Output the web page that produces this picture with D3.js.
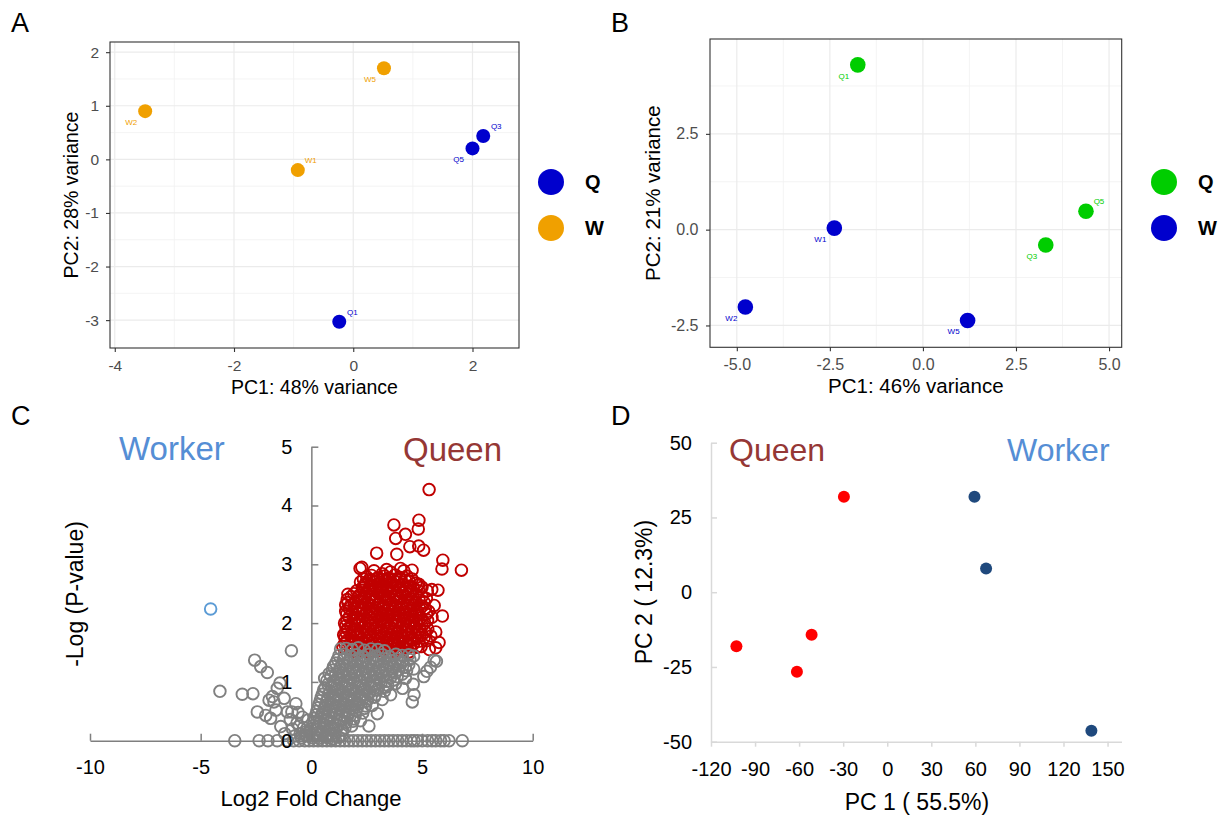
<!DOCTYPE html>
<html>
<head>
<meta charset="utf-8">
<script src="https://cdn.jsdelivr.net/npm/d3@7"></script>
<style>
  body { margin: 0; background: #fff; }
  svg { display: block; font-family: "Liberation Sans", Arial, sans-serif; }
</style>
</head>
<body>
<svg id="fig" width="1225" height="817"></svg>
<script>
// ---------- data ----------

// panel A: PCA (ggplot style)
const samplesA = ['Q1', 'Q3', 'Q5', 'W1', 'W2', 'W5'];
const groupA = ['Q', 'Q', 'Q', 'W', 'W', 'W'];
const pc1A = [-0.235, 2.18, 2.0, -0.93, -3.49, 0.515];
const pc2A = [-3.03, 0.435, 0.205, -0.20, 0.90, 1.70];

// panel B: PCA (ggplot style)
const samplesB = ['Q1', 'Q3', 'Q5', 'W1', 'W2', 'W5'];
const groupB = ['Q', 'Q', 'Q', 'W', 'W', 'W'];
const pc1B = [-1.75, 3.30, 4.38, -2.38, -4.77, 1.20];
const pc2B = [4.30, -0.40, 0.48, 0.04, -2.02, -2.37];

// panel C: volcano plot, [log2 fold change, -log p]
const workerPts = [[-4.55, 2.24]];
const queenPts = [
  [5.32,4.27],[3.73,3.67],[4.86,3.75],[4.83,3.60],[3.81,3.44],[4.25,3.51],[4.45,3.30],[4.85,3.31],[5.07,3.24],
  [2.95,3.19],[3.86,3.17],[5.94,3.07],[5.90,2.92],[6.78,2.90],[2.28,2.95],[2.20,2.93],[2.83,2.89],[3.40,2.91],
  [3.58,2.87],[4.03,2.93],[4.18,2.89],[4.55,2.90],[3.20,2.84],[5.72,2.56],[5.44,2.57],[5.92,2.12],[5.55,2.30],
  [1.65,2.49],[1.55,2.31],[5.62,1.85],[5.77,1.67],[5.33,1.55],[5.62,1.58],[4.96,1.60],[1.52,1.66],[4.86,2.66],
  [5.24,2.55],[2.76,2.73],
  [2.50,2.79],[2.72,2.81],[3.02,2.77],[3.32,2.80],[3.55,2.76],[3.78,2.82],[3.97,2.78],[4.32,2.80],
  [2.35,2.75],[2.62,2.74],[2.95,2.76],[3.20,2.74],[3.45,2.76],[3.70,2.74],[4.05,2.75],[4.25,2.73],[4.55,2.75],
  [2.22,2.70],[2.45,2.68],[2.85,2.71],[3.08,2.67],[3.30,2.72],[3.62,2.69],[3.86,2.70],[4.12,2.66],[4.42,2.71],[4.72,2.68],
  [2.40,2.64],[2.70,2.65],[3.00,2.66],[3.25,2.64],[3.55,2.65],[3.82,2.64],[4.15,2.65],[4.45,2.63],[4.80,2.64],
  [2.30,2.60],[2.60,2.58],[2.92,2.62],[3.17,2.57],[3.45,2.61],[3.72,2.59],[4.02,2.62],[4.27,2.58],[4.60,2.60],[5.00,2.61],
  [2.05,2.55],[2.35,2.56],[2.62,2.54],[2.88,2.56],[3.15,2.53],[3.42,2.56],[3.68,2.54],[3.95,2.56],[4.22,2.54],[4.50,2.55],[4.85,2.55],
  [1.92,2.50],[2.15,2.47],[2.47,2.52],[2.72,2.49],[3.02,2.51],[3.30,2.48],[3.57,2.52],[3.82,2.47],[4.10,2.51],[4.37,2.49],[4.72,2.50],
  [1.80,2.45],[2.12,2.44],[2.40,2.46],[2.66,2.44],[2.95,2.45],[3.22,2.43],[3.48,2.46],[3.76,2.44],[4.05,2.46],[4.30,2.44],[4.60,2.45],[5.00,2.45],
  [1.62,2.40],[2.02,2.38],[2.30,2.42],[2.62,2.39],[2.87,2.41],[3.12,2.37],[3.42,2.41],[3.70,2.39],[3.96,2.42],[4.22,2.38],[4.52,2.41],[4.87,2.39],[5.20,2.42],
  [1.65,2.35],[1.95,2.34],[2.25,2.36],[2.55,2.34],[2.82,2.36],[3.05,2.34],[3.35,2.35],[3.62,2.33],[3.88,2.36],[4.15,2.34],[4.45,2.35],[4.75,2.34],[5.10,2.35],
  [1.77,2.30],[2.10,2.28],[2.42,2.32],[2.75,2.29],[3.00,2.31],[3.26,2.27],[3.52,2.31],[3.80,2.29],[4.06,2.32],[4.36,2.28],[4.66,2.30],[5.02,2.29],
  [1.70,2.25],[2.00,2.24],[2.30,2.26],[2.62,2.24],[2.90,2.26],[3.18,2.24],[3.45,2.25],[3.72,2.23],[4.00,2.26],[4.28,2.24],[4.58,2.25],[4.90,2.24],[5.15,2.25],
  [1.55,2.20],[1.86,2.18],[2.20,2.22],[2.50,2.19],[2.80,2.21],[3.10,2.17],[3.36,2.21],[3.65,2.19],[3.92,2.22],[4.20,2.18],[4.50,2.21],[4.80,2.19],[5.30,2.20],
  [1.60,2.15],[1.95,2.14],[2.28,2.16],[2.58,2.14],[2.88,2.16],[3.15,2.13],[3.42,2.16],[3.70,2.14],[3.97,2.16],[4.25,2.14],[4.55,2.15],[4.85,2.14],[5.20,2.15],
  [1.70,2.10],[2.02,2.08],[2.35,2.12],[2.66,2.09],[2.95,2.11],[3.22,2.07],[3.50,2.11],[3.77,2.09],[4.02,2.12],[4.30,2.08],[4.60,2.11],[4.95,2.09],[5.45,2.10],
  [1.60,2.05],[1.95,2.04],[2.28,2.06],[2.58,2.04],[2.86,2.06],[3.12,2.03],[3.42,2.06],[3.70,2.04],[3.95,2.06],[4.25,2.04],[4.55,2.05],[4.85,2.04],[5.25,2.05],
  [1.50,2.00],[1.85,1.98],[2.15,2.02],[2.45,1.99],[2.76,2.01],[3.05,1.97],[3.32,2.01],[3.60,1.99],[3.86,2.02],[4.15,1.98],[4.45,2.01],[4.76,1.99],[5.12,2.00],
  [1.55,1.95],[1.78,1.94],[2.08,1.96],[2.38,1.94],[2.68,1.96],[2.98,1.93],[3.25,1.96],[3.52,1.94],[3.80,1.96],[4.08,1.94],[4.38,1.95],[4.68,1.94],[5.00,1.95],
  [1.62,1.90],[1.96,1.88],[2.30,1.92],[2.60,1.89],[2.90,1.91],[3.16,1.87],[3.45,1.91],[3.72,1.89],[4.00,1.92],[4.30,1.88],[4.60,1.91],[4.90,1.89],[5.26,1.90],
  [1.55,1.85],[1.88,1.84],[2.20,1.86],[2.50,1.84],[2.80,1.86],[3.08,1.83],[3.38,1.86],[3.65,1.84],[3.92,1.86],[4.22,1.84],[4.50,1.85],[4.80,1.84],[5.15,1.85],
  [1.46,1.80],[1.80,1.78],[2.10,1.82],[2.40,1.79],[2.70,1.81],[3.00,1.77],[3.30,1.81],[3.56,1.79],[3.85,1.82],[4.12,1.78],[4.40,1.81],[4.70,1.79],[5.00,1.80],[5.40,1.78],
  [1.52,1.75],[1.85,1.74],[2.15,1.76],[2.48,1.74],[2.78,1.76],[3.08,1.73],[3.35,1.76],[3.62,1.74],[3.90,1.76],[4.18,1.74],[4.48,1.75],[4.78,1.74],[5.10,1.75],
  [1.60,1.70],[1.92,1.68],[2.25,1.72],[2.56,1.69],[2.86,1.71],[3.15,1.67],[3.42,1.71],[3.70,1.69],[3.96,1.72],[4.25,1.68],[4.56,1.71],[4.86,1.69],[5.20,1.70],
  [1.50,1.65],[1.85,1.64],[2.15,1.66],[2.48,1.64],[2.78,1.66],[3.08,1.63],[3.38,1.66],[3.65,1.64],[3.95,1.66],[4.32,1.64],[4.62,1.65],
  [1.42,1.60],[1.76,1.58],[2.06,1.62],[2.40,1.59],[2.70,1.61],[3.00,1.57],[3.30,1.61],[3.60,1.59],[3.90,1.62],[4.20,1.58],[4.50,1.61],[4.76,1.59],
  [1.60,1.56],[2.10,1.56],[2.45,1.57],[2.80,1.56],[3.10,1.57],[3.40,1.56],[3.72,1.57],[4.02,1.56],[4.30,1.57],
  [1.90,1.52],[2.30,1.53],[2.62,1.51],[2.95,1.53],[3.26,1.52],[3.56,1.51],[3.86,1.53],[4.15,1.52],[4.42,1.51]
];
const otherPts = [
  // along p = 1
  [-3.46,0],[-2.36,0],[-1.96,0],[-1.54,0],[-1.08,0],[-0.80,0],[-0.55,0],[-0.30,0],[-0.10,0],[0.10,0],[0.30,0],
  [0.50,0],[0.70,0],[0.90,0],[1.10,0],[1.30,0],[1.50,0],[1.70,0],[1.90,0],[2.10,0],[2.30,0],[2.50,0],[2.70,0],
  [2.90,0],[3.10,0],[3.30,0],[3.50,0],[3.70,0],[3.90,0],[4.10,0],[4.30,0],[4.50,0],[4.64,0],[4.80,0],[5.01,0],
  [5.25,0],[5.45,0],[5.62,0],[5.84,0],[6.00,0],[6.22,0],[6.82,0],
  // negative fold change
  [-4.13,0.84],[-3.12,0.79],[-2.64,0.80],[-2.56,1.37],[-2.29,1.26],[-1.99,1.16],[-0.90,1.53],[-1.42,0.98],
  [-1.54,0.89],[-1.76,0.75],[-1.91,0.69],[-1.69,0.66],[-1.23,0.72],[-0.70,0.63],[-2.44,0.49],[-2.06,0.43],
  [-1.84,0.38],[-1.38,0.24],[-1.08,0.49],[-0.95,0.36],[-1.20,0.12],[-0.85,0.20],[-0.65,0.30],[-0.50,0.12],
  [-0.35,0.22],[-0.20,0.08],[-0.60,0.48],[-0.40,0.40],[-1.60,0.52],[-0.88,0.49],
  [-0.75,0.08],[-0.55,0.25],[-0.25,0.15],[-0.15,0.35],[-0.45,0.05],
  // positive fold change, not significant
  [1.32,1.56],[1.58,1.57],[1.85,1.55],[2.12,1.58],[2.40,1.54],[2.70,1.56],[3.00,1.55],[3.30,1.53],
  [1.25,1.45],[1.50,1.47],[1.78,1.44],[2.05,1.46],[2.35,1.43],[2.62,1.47],[2.92,1.44],[3.22,1.46],[3.52,1.43],
  [3.82,1.47],[4.10,1.45],[4.40,1.46],[4.62,1.44],[5.55,1.37],[5.65,1.35],
  [1.18,1.38],[1.45,1.39],[1.75,1.37],[2.05,1.39],[2.35,1.37],[2.65,1.39],[2.95,1.37],[3.25,1.39],[3.55,1.37],
  [3.85,1.39],[4.15,1.37],[4.45,1.38],
  [1.10,1.32],[1.40,1.30],[1.70,1.33],[2.00,1.29],[2.30,1.32],[2.60,1.30],[2.90,1.33],[3.20,1.29],[3.50,1.32],
  [3.80,1.30],[4.10,1.33],[4.40,1.29],[5.38,1.25],
  [1.00,1.26],[1.30,1.25],[1.60,1.27],[1.90,1.25],[2.20,1.27],[2.50,1.25],[2.80,1.27],[3.10,1.25],[3.40,1.27],
  [3.70,1.25],[4.00,1.27],[4.25,1.25],
  [0.95,1.20],[1.25,1.18],[1.55,1.22],[1.85,1.19],[2.15,1.21],[2.45,1.17],[2.75,1.21],[3.05,1.19],[3.35,1.22],
  [3.65,1.18],[3.95,1.21],[4.30,1.19],[4.62,1.22],[5.22,1.18],
  [0.80,1.14],[1.10,1.13],[1.40,1.15],[1.70,1.13],[2.00,1.15],[2.30,1.13],[2.60,1.15],[2.90,1.13],[3.20,1.15],
  [3.50,1.13],[3.80,1.15],[4.10,1.13],
  [0.60,1.06],[0.88,1.10],[1.18,1.07],[1.48,1.09],[1.78,1.06],[2.08,1.10],[2.38,1.07],[2.68,1.09],[2.98,1.06],
  [3.28,1.10],[3.58,1.07],[3.88,1.09],[4.25,1.06],[5.08,1.09],
  [0.70,1.02],[1.00,1.01],[1.30,1.03],[1.60,1.01],[1.90,1.03],[2.20,1.01],[2.50,1.03],[2.80,1.01],[3.10,1.03],
  [3.40,1.01],[3.70,1.03],
  [0.75,0.96],[1.05,0.94],[1.35,0.97],[1.65,0.95],[1.95,0.98],[2.25,0.94],[2.55,0.97],[2.85,0.95],[3.15,0.98],
  [3.45,0.94],[3.80,0.97],[4.12,0.89],[4.60,0.96],
  [0.62,0.90],[0.92,0.91],[1.22,0.89],[1.52,0.91],[1.82,0.89],[2.12,0.91],[2.42,0.89],[2.72,0.91],[3.02,0.89],
  [3.35,0.91],
  [0.55,0.86],[0.85,0.84],[1.15,0.87],[1.45,0.83],[1.75,0.86],[2.05,0.84],[2.35,0.87],[2.65,0.83],[2.95,0.86],
  [3.30,0.84],[3.58,0.78],[4.64,0.78],
  [0.50,0.79],[0.80,0.80],[1.10,0.78],[1.40,0.80],[1.70,0.78],[2.00,0.80],[2.30,0.78],[2.60,0.80],[2.90,0.78],
  [0.45,0.74],[0.75,0.72],[1.05,0.75],[1.35,0.71],[1.65,0.74],[1.95,0.72],[2.25,0.75],[2.55,0.71],[2.85,0.74],
  [3.20,0.70],[4.56,0.66],
  [0.40,0.68],[0.70,0.67],[1.00,0.69],[1.30,0.67],[1.60,0.69],[1.90,0.67],[2.20,0.69],[2.50,0.67],
  [0.35,0.62],[0.65,0.60],[0.95,0.63],[1.25,0.59],[1.55,0.62],[1.85,0.60],[2.15,0.63],[2.45,0.59],[2.75,0.60],
  [0.30,0.56],[0.58,0.55],[0.88,0.57],[1.18,0.55],[1.48,0.57],[1.78,0.55],[2.08,0.57],[2.40,0.55],
  [0.25,0.50],[0.52,0.48],[0.82,0.51],[1.12,0.47],[1.42,0.50],[1.72,0.48],[2.02,0.51],[2.32,0.47],[2.98,0.46],
  [0.20,0.44],[0.48,0.45],[0.78,0.43],[1.08,0.45],[1.38,0.43],[1.68,0.45],[1.98,0.43],
  [0.15,0.38],[0.42,0.40],[0.72,0.37],[1.02,0.39],[1.32,0.36],[1.62,0.40],[1.92,0.37],[2.22,0.34],
  [0.12,0.32],[0.40,0.31],[0.68,0.33],[0.98,0.31],[1.28,0.33],[1.58,0.31],[1.88,0.33],
  [0.08,0.26],[0.35,0.24],[0.62,0.27],[0.92,0.23],[1.22,0.26],[1.52,0.22],[1.82,0.25],[2.60,0.25],
  [-0.02,0.20],[0.25,0.19],[0.52,0.21],[0.82,0.19],[1.12,0.21],[1.42,0.18],
  [-0.08,0.14],[0.22,0.12],[0.48,0.15],[0.78,0.11],[1.08,0.13],[1.38,0.10],
  [-0.30,0.10],[0.12,0.09],[0.40,0.09],[0.70,0.08],[1.00,0.08],[1.25,0.06],
  [0.05,0.05],[0.35,0.04],[0.65,0.06],[0.95,0.03]
];

// panel D: PCA (excel style)
const queenPC1 = [-102.7, -29.5, -51.5, -61.5];
const queenPC2 = [-18.1, 31.9, -14.2, -26.6];
const workerPC1 = [59.4, 67.3, 139.0];
const workerPC2 = [31.9, 7.9, -46.3];

// tick values
const ticksAx = [-4, -2, 0, 2];
const ticksAy = [-3, -2, -1, 0, 1, 2];
const ticksBx = [-5, -2.5, 0, 2.5, 5];
const ticksBy = [-2.5, 0, 2.5];
const ticksCx = [-10, -5, 0, 5, 10];
const ticksCy = [0, 1, 2, 3, 4, 5];
const ticksDx = [-120, -90, -60, -30, 0, 30, 60, 90, 120, 150];
const ticksDy = [-50, -25, 0, 25, 50];

// ---------- drawing ----------
const FONT = '"Liberation Sans", Arial, sans-serif';
const svg = d3.select('#fig');

// where the small sample labels go relative to their point
const nudge = { ur: [13, -10], ll: [-14, 11] };

function styleAxis(g, size, color, lineColor, lineWidth) {
    g.attr('font-family', FONT).attr('font-size', size);
    g.selectAll('.tick text').attr('fill', color);
    g.selectAll('.tick line').attr('stroke', lineColor).attr('stroke-width', lineWidth);
    g.select('.domain').attr('stroke', lineColor).attr('stroke-width', lineWidth);
}

/**
 * ggplot2 theme_bw style PCA panel
 */
function drawGgPca(cfg) {
    const b = cfg.box;
    const x = d3.scaleLinear().domain(cfg.xDomain).range([b.left, b.right]);
    const y = d3.scaleLinear().domain(cfg.yDomain).range([b.bottom, b.top]);
    const color = d3.scaleOrdinal().domain(['Q', 'W']).range(cfg.colors);
    const g = svg.append('g');

    // grid lines, minor first
    const grid = (vals, vertical, stroke, w) => g.append('g').selectAll('line').data(vals).join('line')
        .attr('x1', d => vertical ? x(d) : b.left).attr('x2', d => vertical ? x(d) : b.right)
        .attr('y1', d => vertical ? b.top : y(d)).attr('y2', d => vertical ? b.bottom : y(d))
        .attr('stroke', stroke).attr('stroke-width', w);
    grid(cfg.xMinor, true, '#F3F3F3', 0.9);
    grid(cfg.yMinor, false, '#F3F3F3', 0.9);
    grid(cfg.xTicks, true, '#EBEBEB', 1.2);
    grid(cfg.yTicks, false, '#EBEBEB', 1.2);

    const pts = cfg.samples.map((s, i) => ({ s, px: cfg.pc1[i], py: cfg.pc2[i], grp: cfg.groups[i] }));

    g.selectAll('.pt').data(pts).join('circle')
        .attr('cx', d => x(d.px))
        .attr('cy', d => y(d.py))
        .attr('r', cfg.r)
        .attr('fill', d => color(d.grp));

    g.selectAll('.lab').data(pts).join('text')
        .attr('x', d => x(d.px) + nudge[cfg.labelPos[d.s]][0])
        .attr('y', d => y(d.py) + nudge[cfg.labelPos[d.s]][1] + 3)
        .attr('text-anchor', 'middle')
        .attr('font-size', 8)
        .attr('fill', d => color(d.grp))
        .text(d => d.s);

    // panel border
    g.append('rect')
        .attr('x', b.left).attr('y', b.top)
        .attr('width', b.right - b.left).attr('height', b.bottom - b.top)
        .attr('fill', 'none').attr('stroke', '#333333').attr('stroke-width', 1.1);

    // axes
    g.append('g')
        .attr('transform', `translate(0,${b.bottom})`)
        .call(d3.axisBottom(x).tickValues(cfg.xTicks).tickFormat(cfg.fmt).tickSize(4).tickPadding(cfg.pad[0]))
        .call(a => a.select('.domain').remove())
        .call(a => styleAxis(a, cfg.tickSize, '#4D4D4D', '#333333', 1.1));
    g.append('g')
        .attr('transform', `translate(${b.left},0)`)
        .call(d3.axisLeft(y).tickValues(cfg.yTicks).tickFormat(cfg.fmt).tickSize(4).tickPadding(cfg.pad[1]))
        .call(a => a.select('.domain').remove())
        .call(a => styleAxis(a, cfg.tickSize, '#4D4D4D', '#333333', 1.1));

    // axis titles
    g.append('text')
        .attr('x', (b.left + b.right) / 2).attr('y', cfg.xTitleY)
        .attr('text-anchor', 'middle').attr('font-size', cfg.titleSize)
        .text(cfg.xTitle);
    g.append('text')
        .attr('transform', `translate(${cfg.yTitleX},${(b.top + b.bottom) / 2}) rotate(-90)`)
        .attr('text-anchor', 'middle').attr('font-size', cfg.titleSize)
        .text(cfg.yTitle);

    // legend
    const leg = g.append('g');
    ['Q', 'W'].forEach((k, i) => {
        leg.append('circle')
            .attr('cx', cfg.legend.x).attr('cy', cfg.legend.y + i * 46)
            .attr('r', 13).attr('fill', color(k));
        leg.append('text')
            .attr('x', cfg.legend.x + 34).attr('y', cfg.legend.y + i * 46 + 7)
            .attr('font-size', 20).attr('font-weight', 'bold')
            .text(k);
    });
}

drawGgPca({
    box: { left: 110, right: 519, top: 42, bottom: 348 },
    xDomain: [-4.08, 2.78], yDomain: [-3.52, 2.19],
    xTicks: ticksAx, yTicks: ticksAy,
    xMinor: [-3, -1, 1], yMinor: [-2.5, -1.5, -0.5, 0.5, 1.5],
    fmt: d => String(d),
    samples: samplesA, groups: groupA, pc1: pc1A, pc2: pc2A,
    labelPos: { Q1: 'ur', Q3: 'ur', Q5: 'll', W1: 'ur', W2: 'll', W5: 'll' },
    colors: ['#0000CD', '#F0A000'],
    r: 7, tickSize: 15.5, titleSize: 19.5, pad: [8, 7],
    xTitle: 'PC1: 48% variance', xTitleY: 394,
    yTitle: 'PC2: 28% variance', yTitleX: 78,
    legend: { x: 551, y: 182 }
});

drawGgPca({
    box: { left: 710, right: 1121.7, top: 39, bottom: 347.3 },
    xDomain: [-5.72, 5.34], yDomain: [-3.07, 4.975],
    xTicks: ticksBx, yTicks: ticksBy,
    xMinor: [-3.75, -1.25, 1.25, 3.75], yMinor: [-1.25, 1.25, 3.75],
    fmt: d => d.toFixed(1),
    samples: samplesB, groups: groupB, pc1: pc1B, pc2: pc2B,
    labelPos: { Q1: 'll', Q3: 'll', Q5: 'ur', W1: 'll', W2: 'll', W5: 'll' },
    colors: ['#00CD00', '#0000CD'],
    r: 7.8, tickSize: 16, titleSize: 20.5, pad: [7, 7.5],
    xTitle: 'PC1: 46% variance', xTitleY: 393,
    yTitle: 'PC2: 21% variance', yTitleX: 660,
    legend: { x: 1164, y: 182 }
});

// ---------- panel C: volcano ----------
(function () {
    const x = d3.scaleLinear().domain([-10, 10]).range([90, 532.7]);
    const y = d3.scaleLinear().domain([0, 5]).range([740.7, 446.7]);
    const g = svg.append('g');

    const ring = (data, stroke) => g.append('g').selectAll('circle').data(data).join('circle')
        .attr('cx', d => x(d[0])).attr('cy', d => y(d[1])).attr('r', 5.8)
        .attr('fill', 'none').attr('stroke', stroke).attr('stroke-width', 1.9);
    ring(queenPts, '#C00000');
    ring(otherPts, '#808080');
    ring(workerPts, '#5B9BD5');

    g.append('g')
        .attr('transform', `translate(0,${y(0)})`)
        .call(d3.axisBottom(x).tickValues(ticksCx).tickFormat(d => String(d)).tickSize(-7).tickSizeOuter(0).tickPadding(19))
        .call(a => styleAxis(a, 20, '#000', '#7F7F7F', 1.5));
    g.append('g')
        .attr('transform', `translate(${x(0)},0)`)
        .call(d3.axisLeft(y).tickValues(ticksCy).tickFormat(d => String(d)).tickSize(-7).tickSizeOuter(0).tickPadding(19))
        .call(a => styleAxis(a, 20, '#000', '#7F7F7F', 1.5));

    g.append('text').attr('x', 311).attr('y', 806).attr('text-anchor', 'middle')
        .attr('font-size', 22).text('Log2 Fold Change');
    g.append('text').attr('transform', 'translate(83,594) rotate(-90)').attr('text-anchor', 'middle')
        .attr('font-size', 23).text('-Log (P-value)');
    g.append('text').attr('x', 119).attr('y', 460).attr('font-size', 33).attr('fill', '#558ED5').text('Worker');
    g.append('text').attr('x', 403).attr('y', 460.5).attr('font-size', 33).attr('fill', '#953735').text('Queen');
})();

// ---------- panel D: PCA (excel style) ----------
(function () {
    const x = d3.scaleLinear().domain([-120, 159.5]).range([711, 1121.5]);
    const y = d3.scaleLinear().domain([-50, 50]).range([741.7, 442.7]);
    const g = svg.append('g');

    g.append('g')
        .attr('transform', `translate(0,${y(-50)})`)
        .call(d3.axisBottom(x).tickValues(ticksDx).tickFormat(d => String(d)).tickSize(5).tickSizeOuter(0).tickPadding(15))
        .call(a => styleAxis(a, 20, '#000', '#D9D9D9', 1.5));
    g.append('g')
        .attr('transform', `translate(${x(-120)},0)`)
        .call(d3.axisLeft(y).tickValues(ticksDy).tickFormat(d => String(d)).tickSize(-6).tickSizeOuter(0).tickPadding(19))
        .call(a => styleAxis(a, 20, '#000', '#D9D9D9', 1.5));

    const dots = (px, py, fill) => g.append('g').selectAll('circle').data(px.map((v, i) => [v, py[i]])).join('circle')
        .attr('cx', d => x(d[0])).attr('cy', d => y(d[1])).attr('r', 6).attr('fill', fill);
    dots(queenPC1, queenPC2, '#FF0000');
    dots(workerPC1, workerPC2, '#1F497D');

    g.append('text').attr('x', 917).attr('y', 810).attr('text-anchor', 'middle')
        .attr('font-size', 23).text('PC 1 ( 55.5%)');
    g.append('text').attr('transform', 'translate(652,592) rotate(-90)').attr('text-anchor', 'middle')
        .attr('font-size', 23).text('PC 2 ( 12.3%)');
    g.append('text').attr('x', 729).attr('y', 461).attr('font-size', 32).attr('fill', '#953735').text('Queen');
    g.append('text').attr('x', 1007).attr('y', 461).attr('font-size', 32).attr('fill', '#558ED5').text('Worker');
})();

// panel letters
[['A', 11, 32], ['B', 611, 32], ['C', 11, 425], ['D', 611, 425]].forEach(([t, px, py]) => {
    svg.append('text').attr('x', px).attr('y', py).attr('font-size', 27).text(t);
});
</script>
</body>
</html>
